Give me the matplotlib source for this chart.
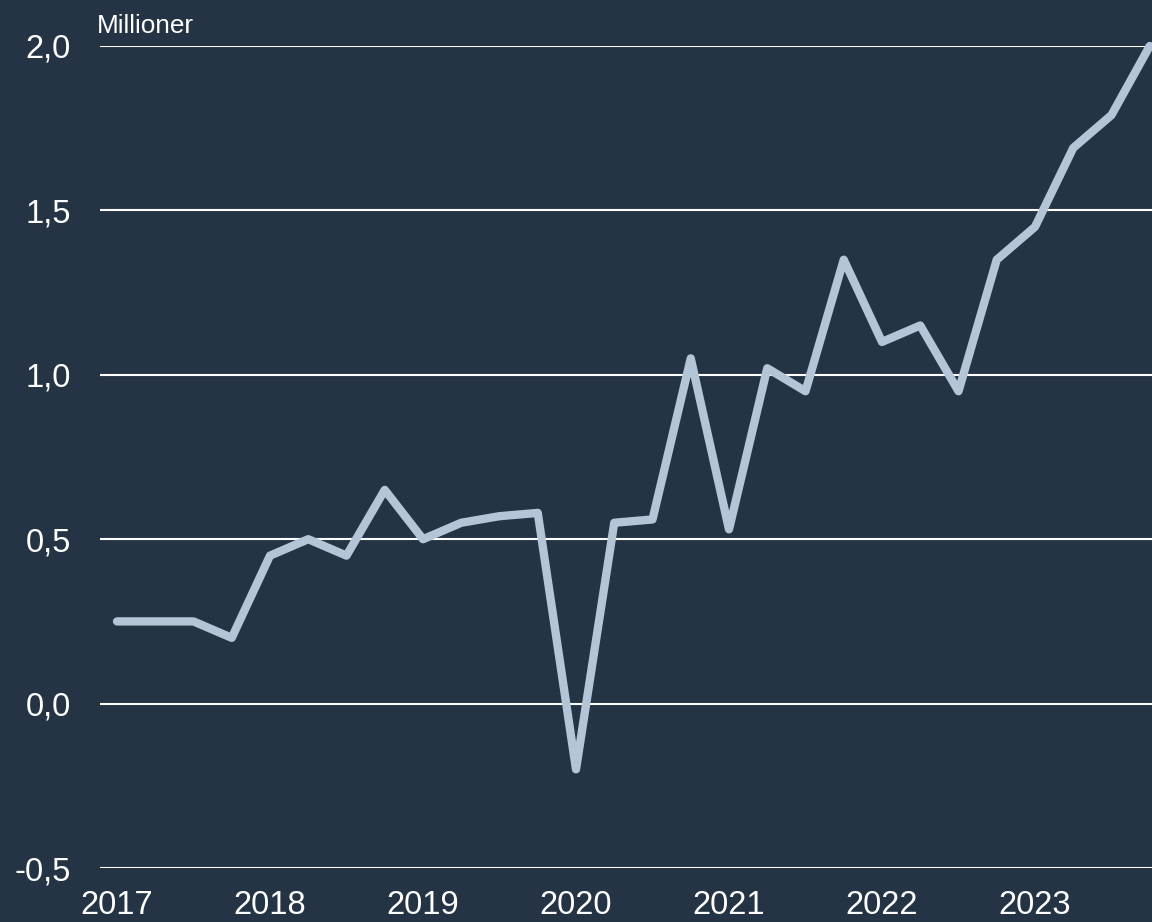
import matplotlib
matplotlib.use("Agg")
import matplotlib.pyplot as plt
import numpy as np

# quarterly values, 2017 Q1 - 2023 Q4 (millions)
values = [0.25, 0.25, 0.25, 0.20,
          0.45, 0.50, 0.45, 0.65,
          0.50, 0.55, 0.57, 0.58,
          -0.20, 0.55, 0.56, 1.05,
          0.53, 1.02, 0.95, 1.35,
          1.10, 1.15, 0.95, 1.35,
          1.45, 1.69, 1.79, 2.00]
years = [2017, 2018, 2019, 2020, 2021, 2022, 2023]
yticks = [-0.5, 0.0, 0.5, 1.0, 1.5, 2.0]
quarters = 2017 + np.arange(len(values)) * 0.25

BG = "#253445"
LINE = "#b3c5d7"

plt.rcParams["font.family"] = ["Liberation Sans", "DejaVu Sans"]

fig = plt.figure(figsize=(11.52, 9.22), dpi=100, facecolor=BG)
ax = fig.add_axes([100 / 1152, 1 - 868 / 922, 1 - 100 / 1152, (868 - 46) / 922])
ax.set_facecolor(BG)

for y in yticks:
    ax.axhline(y, color="white", linewidth=1.5, zorder=1)

ax.plot(quarters, values, color=LINE, linewidth=6, solid_capstyle="round",
        solid_joinstyle="round", zorder=3, clip_on=False)

ax.set_xlim(2017 - 17 / 153, 2023 + 117 / 153)
ax.set_ylim(-0.5, 2.0)
ax.set_xticks(years)
ax.set_xticklabels([str(y) for y in years])
ax.set_yticks(yticks)
ax.set_yticklabels([f"{y:.1f}".replace(".", ",") for y in yticks])
ax.tick_params(axis="both", length=0, colors="white")
ax.tick_params(axis="x", labelsize=23.5, pad=16)
ax.tick_params(axis="y", labelsize=23.5, pad=21)
for s in ax.spines.values():
    s.set_visible(False)

fig.text(97 / 1152, 1 - 33 / 922, "Millioner", color="white", fontsize=18.8,
         ha="left", va="baseline")

fig.savefig("out.png", dpi=100, facecolor=BG)
